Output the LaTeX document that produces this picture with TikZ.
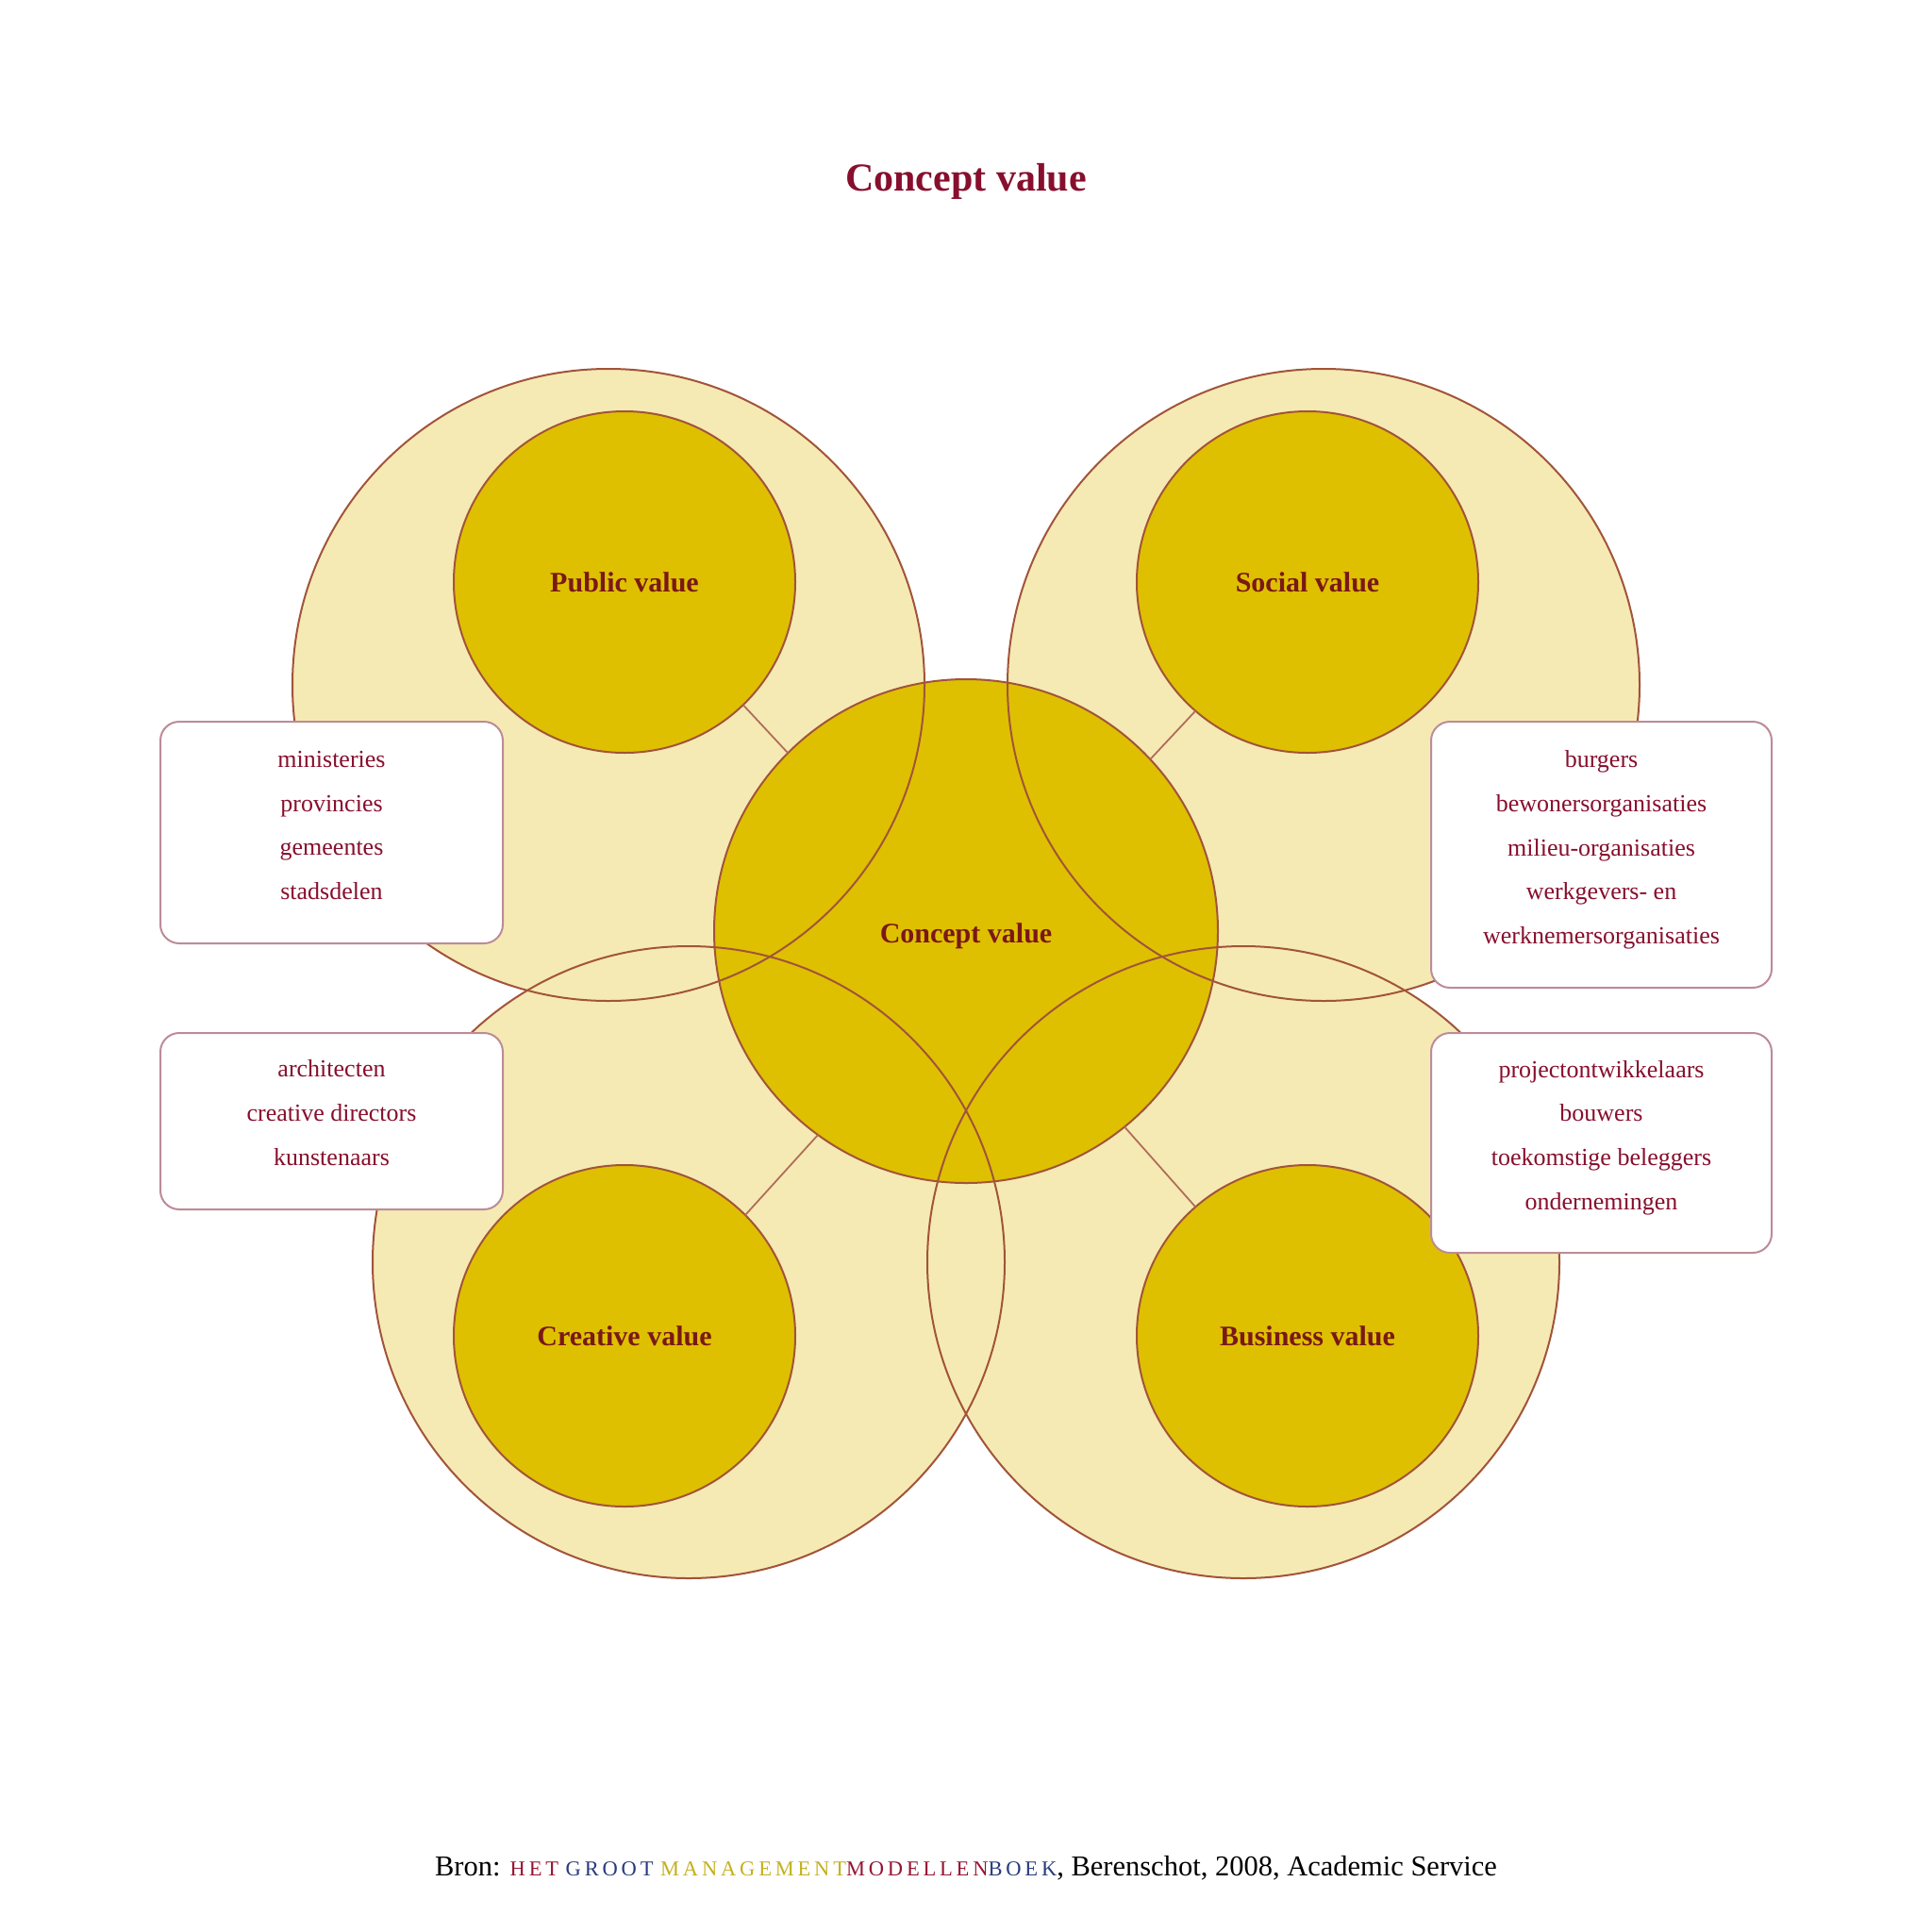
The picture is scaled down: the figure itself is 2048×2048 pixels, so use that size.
\documentclass[tikz,border=0pt]{standalone}
\usepackage{fontspec}
\setmainfont{Liberation Serif}
\newfontfamily\scfont[LetterSpace=17]{Liberation Serif}
\definecolor{gold}{RGB}{222,192,0}
\definecolor{pale}{RGB}{246,234,180}
\definecolor{rim}{RGB}{162,84,58}
\definecolor{boxrim}{RGB}{188,140,152}
\definecolor{maroon}{RGB}{135,15,45}
\definecolor{labelred}{RGB}{122,24,22}
\definecolor{fred}{RGB}{150,20,50}
\definecolor{fblue}{RGB}{40,60,125}
\definecolor{folive}{RGB}{196,176,30}
\newcommand{\smcp}[1]{{\scfont\fontsize{22.5}{26}\selectfont #1}}
\tikzset{
  bigc/.style={circle, fill=pale, minimum size=670pt, inner sep=0pt, outer sep=0pt},
  smallc/.style={circle, fill=gold, draw=rim, line width=2pt, minimum size=362pt, inner sep=0pt, outer sep=0pt,
    font=\bfseries\fontsize{30}{34}\selectfont, text=labelred},
  centerc/.style={circle, fill=gold, draw=rim, line width=2pt, minimum size=534pt, inner sep=0pt, outer sep=0pt,
    font=\bfseries\fontsize{30}{34}\selectfont, text=labelred},
  outl/.style={draw=rim, line width=2pt},
  conn/.style={draw=rim!85!white, line width=1.8pt},
  infobox/.style={rectangle, rounded corners=20pt, fill=white, draw=boxrim, line width=2pt, inner sep=0pt, outer sep=0pt},
  boxtext/.style={align=center, text=maroon, font=\fontsize{26}{46.7}\selectfont, inner sep=0pt}
}
\begin{document}
\begin{tikzpicture}[x=1pt,y=-1pt]
\useasboundingbox (0,0) rectangle (2048,2048);
\fill[white] (0,0) rectangle (2048,2048);
% big pale circles
\node[bigc] (bigpub) at (645,726) {};
\node[bigc] (bigsoc) at (1403,726) {};
\node[bigc] (bigcre) at (730,1338) {};
\node[bigc] (bigbus) at (1318,1338) {};
% small value circles
\node[smallc] (pub) at (662,617) {Public value};
\node[smallc] (soc) at (1386,617) {Social value};
\node[smallc] (cre) at (662,1416) {Creative value};
\node[smallc] (bus) at (1386,1416) {Business value};
% central circle
\node[centerc] (concept) at (1024,987) {\raisebox{-5pt}[\height][\depth]{Concept value}};
% connectors
\draw[conn] (pub.314) -- (concept.135);
\draw[conn] (soc.229) -- (concept.43);
\draw[conn] (cre.45) -- (concept.234);
\draw[conn] (bus.131) -- (concept.309);
% outlines of big circles on top
\draw[outl] (bigpub.center) circle[radius=335pt];
\draw[outl] (bigsoc.center) circle[radius=335pt];
\draw[outl] (bigcre.center) circle[radius=335pt];
\draw[outl] (bigbus.center) circle[radius=335pt];
% boxes
\node[infobox, minimum width=363pt, minimum height=235pt] (boxpub) at (351.5,882.5) {};
\node[infobox, minimum width=361pt, minimum height=282pt] (boxsoc) at (1697.5,906) {};
\node[infobox, minimum width=363pt, minimum height=187pt] (boxcre) at (351.5,1188.5) {};
\node[infobox, minimum width=361pt, minimum height=233pt] (boxbus) at (1697.5,1211.5) {};
\node[boxtext] (txtpub) at (351.5,875) {ministeries\\provincies\\gemeentes\\stadsdelen};
\node[boxtext] (txtsoc) at (1697.5,901) {burgers\\bewonersorganisaties\\milieu-organisaties\\werkgevers- en\\werknemersorganisaties};
\node[boxtext] (txtcre) at (351.5,1179.5) {architecten\\creative directors\\kunstenaars};
\node[boxtext] (txtbus) at (1697.5,1206) {projectontwikkelaars\\bouwers\\toekomstige beleggers\\ondernemingen};
% title
\node[anchor=base, text=maroon, font=\bfseries\fontsize{42}{48}\selectfont] (title) at (1024,202) {Concept value};
% footer
\node[anchor=base, text=black, font=\fontsize{30.5}{34}\selectfont, inner sep=0pt] (footer) at (1024,1988)
  {Bron: \textcolor{fred}{\smcp{HET}} \textcolor{fblue}{\smcp{GROOT}} \textcolor{folive}{\smcp{MANAGEMENT}}\textcolor{fred}{\smcp{MODELLEN}}\textcolor{fblue}{\smcp{BOEK}}, Berenschot, 2008, Academic Service};
\end{tikzpicture}
\end{document}
